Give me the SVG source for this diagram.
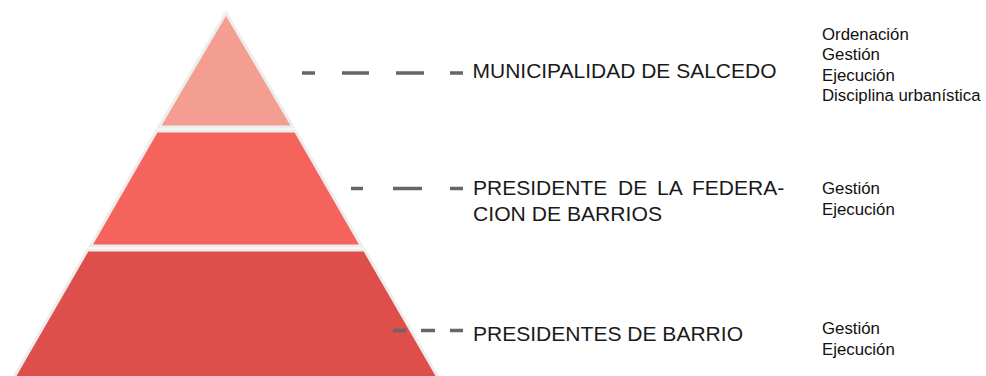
<svg xmlns="http://www.w3.org/2000/svg" width="986" height="376" viewBox="0 0 986 376">
<style>
  .tier { stroke: #ededed; stroke-width: 3; stroke-linejoin: miter; }
  .lbl { font-family: "Liberation Sans", Arial, sans-serif; font-size: 21px; fill: #1a1a1a; }
  .sm { font-family: "Liberation Sans", Arial, sans-serif; font-size: 16.8px; fill: #111; }
  .dash { stroke: #666666; stroke-width: 3.5; fill: none; stroke-linecap: butt; }
</style>
<rect width="986" height="376" fill="#ffffff"/>
<g id="tier-top">
  <polygon class="tier" fill="#f39e90" points="226,13 293,127 159,127"/>
</g>
<g id="tier-middle">
  <polygon class="tier" fill="#f4645d" points="156.6,131 295.4,131 361.5,246 90.5,246"/>
</g>
<g id="tier-bottom">
  <polygon class="tier" fill="#de4f4b" points="87.5,250 364.5,250 439,379 13,379"/>
</g>
<g id="connectors">
  <path class="dash" d="M302,73H315M342,73H369M396,73H424M450,73H463"/>
  <path class="dash" d="M351,188.5H363M393,188.5H422M450,188.5H463"/>
  <path class="dash" d="M393,330.5H406M421,330.5H435M450,330.5H463"/>
</g>
<g id="label-municipalidad">
  <text class="lbl" x="472.5" y="77.5" textLength="304" lengthAdjust="spacingAndGlyphs">MUNICIPALIDAD DE SALCEDO</text>
</g>
<g id="label-federacion">
  <text class="lbl" y="195.3"><tspan x="473">PRESIDENTE</tspan><tspan x="618">DE</tspan><tspan x="657">LA</tspan><tspan x="692">FEDERA-</tspan></text>
  <text class="lbl" x="473" y="220.5" textLength="189" lengthAdjust="spacingAndGlyphs">CION DE BARRIOS</text>
</g>
<g id="label-barrio">
  <text class="lbl" x="473" y="340.5" textLength="270" lengthAdjust="spacingAndGlyphs">PRESIDENTES DE BARRIO</text>
</g>
<g id="roles-municipalidad">
  <text class="sm" x="822" y="40">Ordenación</text>
  <text class="sm" x="822" y="60.3">Gestión</text>
  <text class="sm" x="822" y="80.6">Ejecución</text>
  <text class="sm" x="822" y="101">Disciplina urbanística</text>
</g>
<g id="roles-federacion">
  <text class="sm" x="822" y="194">Gestión</text>
  <text class="sm" x="822" y="214.5">Ejecución</text>
</g>
<g id="roles-barrio">
  <text class="sm" x="822" y="334">Gestión</text>
  <text class="sm" x="822" y="354.5">Ejecución</text>
</g>
</svg>
